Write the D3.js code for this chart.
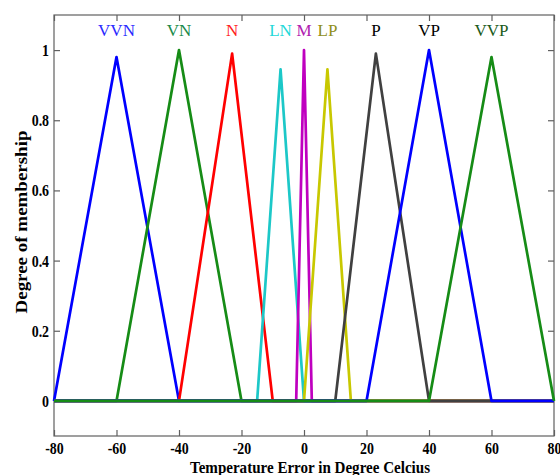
<!DOCTYPE html>
<html>
<head>
<meta charset="utf-8">
<script src="https://cdn.jsdelivr.net/npm/d3@7"></script>
<style>
  body { margin: 0; background: #fff; }
  svg text { font-family: "Liberation Serif", "Times New Roman", serif; }
</style>
</head>
<body>
<svg id="chart"></svg>
<script>
// membership functions: name, triangle [a, b, c], peak height
const names = ["VVN", "VN", "N", "LN", "M", "LP", "P", "VP", "VVP"]
const feet = [[-80, -60, -40], [-60, -40, -20], [-40, -23, -10], [-15, -7.5, 0], [-2.5, 0, 2.5],
              [0, 7.5, 15], [10, 23, 40], [20, 40, 60], [40, 60, 80]]
const peaks = [0.98, 1.0, 0.99, 0.945, 1.0, 0.945, 0.99, 1.0, 0.98]
const lineColors = ["#0000ff", "#168c16", "#ff0000", "#1cc8c8", "#bf00bf", "#c8c800", "#404040", "#0000ff", "#168c16"]
const labelColors = ["#2a2aff", "#1a8a4a", "#ff2020", "#22d8d8", "#b020b0", "#8f8f1a", "#000000", "#000000", "#1a5a1a"]
const xTicks = [-80, -60, -40, -20, 0, 20, 40, 60, 80]
const yTicks = [0, 0.2, 0.4, 0.6, 0.8, 1]

const width = 560, height = 475
const margin = { top: 15, right: 6, bottom: 39, left: 54 }

const svg = d3.select("#chart").attr("width", width).attr("height", height)

const x = d3.scaleLinear().domain([-80, 80]).range([margin.left, width - margin.right])
const y = d3.scaleLinear().domain([-0.1, 1.1]).range([height - margin.bottom, margin.top])

//Frame
svg.append("rect")
    .attr("x", x(-80)).attr("y", y(1.1))
    .attr("width", x(80) - x(-80)).attr("height", y(-0.1) - y(1.1))
    .attr("fill", "none").attr("stroke", "#606060").attr("stroke-width", 1.2)

const styleAxis = g => {
    g.select(".domain").remove()
    g.selectAll(".tick line").attr("stroke", "#606060").attr("stroke-width", 1.2)
    g.selectAll(".tick text")
        .attr("fill", "#000")
        .attr("transform", "scale(0.82,1)")
        .style("font-size", "17px").style("font-weight", "bold")
}

svg.append("g")
    .attr("transform", `translate(0,${y(-0.1)})`)
    .call(d3.axisBottom(x).tickValues(xTicks).tickSizeInner(-6).tickSizeOuter(0).tickPadding(6).tickFormat(d => String(d)))
    .call(styleAxis)
svg.append("g")
    .attr("transform", `translate(0,${y(1.1)})`)
    .call(d3.axisTop(x).tickValues(xTicks).tickSizeInner(-6).tickSizeOuter(0).tickFormat(""))
    .call(styleAxis)
svg.append("g")
    .attr("transform", `translate(${x(-80)},0)`)
    .call(d3.axisLeft(y).tickValues(yTicks).tickSizeInner(-6).tickSizeOuter(0).tickPadding(6).tickFormat(d => String(d)))
    .call(styleAxis)
svg.append("g")
    .attr("transform", `translate(${x(80)},0)`)
    .call(d3.axisRight(y).tickValues(yTicks).tickSizeInner(-6).tickSizeOuter(0).tickFormat(""))
    .call(styleAxis)

//Draw membership functions over the whole universe
const line = d3.line().x(d => x(d[0])).y(d => y(d[1]))
names.forEach((n, i) => {
    const [a, b, c] = feet[i]
    const pts = [[-80, 0], [a, 0], [b, peaks[i]], [c, 0], [80, 0]]
    svg.append("path")
        .datum(pts)
        .attr("d", line)
        .attr("fill", "none")
        .attr("stroke", lineColors[i])
        .attr("stroke-width", 2.7)
        .attr("stroke-linejoin", "round")
})

//Labels
svg.append("g")
    .selectAll("text")
    .data(names)
    .join("text")
    .attr("x", (d, i) => x(feet[i][1]))
    .attr("y", y(1.05))
    .attr("text-anchor", "middle")
    .attr("dominant-baseline", "middle")
    .attr("fill", (d, i) => labelColors[i])
    .style("font-size", "17px")
    .text(d => d)

//Axis titles
svg.append("text")
    .attr("x", 310).attr("y", 473)
    .attr("text-anchor", "middle")
    .attr("textLength", 240).attr("lengthAdjust", "spacingAndGlyphs")
    .style("font-size", "16px").style("font-weight", "bold")
    .text("Temperature Error in Degree Celcius")
svg.append("text")
    .attr("transform", `translate(27,${y(0.51)}) rotate(-90)`)
    .attr("text-anchor", "middle")
    .attr("textLength", 183).attr("lengthAdjust", "spacingAndGlyphs")
    .style("font-size", "17px").style("font-weight", "bold")
    .text("Degree of membership")
</script>
</body>
</html>
